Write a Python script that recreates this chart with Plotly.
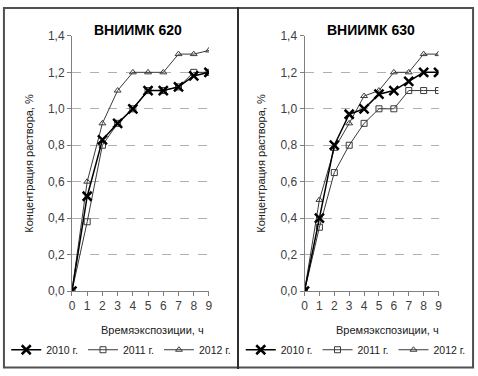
import plotly.graph_objects as go

hours = [0, 1, 2, 3, 4, 5, 6, 7, 8, 9]
years = ["2010 г.", "2011 г.", "2012 г."]

v620_2010 = [0, 0.52, 0.83, 0.92, 1.0, 1.1, 1.1, 1.12, 1.18, 1.2]
v620_2011 = [0, 0.38, 0.80, 0.92, 1.0, 1.1, 1.1, 1.12, 1.2, 1.2]
v620_2012 = [0, 0.60, 0.92, 1.10, 1.2, 1.2, 1.2, 1.3, 1.3, 1.32]

v630_2010 = [0, 0.40, 0.80, 0.97, 1.0, 1.08, 1.1, 1.15, 1.2, 1.2]
v630_2011 = [0, 0.35, 0.65, 0.80, 0.92, 1.0, 1.0, 1.1, 1.1, 1.1]
v630_2012 = [0, 0.50, 0.78, 0.92, 1.07, 1.1, 1.2, 1.2, 1.3, 1.3]

titles = ["ВНИИМК 620", "ВНИИМК 630"]
x_title = "Времяэкспозиции, ч"
y_title = "Концентрация раствора, %"

styles = [
    dict(color="#000000", width=1.5, symbol="x-thin-open", size=9, mlw=2.5),
    dict(color="#3a3a3a", width=1, symbol="square-open", size=6, mlw=1),
    dict(color="#3a3a3a", width=1, symbol="triangle-up-open", size=6, mlw=1),
]

fig = go.Figure()
panels = [(v620_2010, v620_2011, v620_2012), (v630_2010, v630_2011, v630_2012)]
for p, series in enumerate(panels):
    xa = "x" if p == 0 else "x2"
    ya = "y" if p == 0 else "y2"
    lg = "legend" if p == 0 else "legend2"
    for i in [2, 1, 0]:
        s = styles[i]
        fig.add_trace(go.Scatter(
            x=hours, y=series[i], name=years[i], mode="lines+markers",
            xaxis=xa, yaxis=ya, legend=lg, legendrank=i,
            line=dict(color=s["color"], width=s["width"]),
            marker=dict(symbol=s["symbol"], size=s["size"], color=s["color"],
                        line=dict(color=s["color"], width=s["mlw"])),
        ))

W, H = 478, 376
def px_x(v):
    return v / W
def px_y(v):
    return 1 - v / H

axis_common = dict(
    range=[0, 9], tickmode="linear", tick0=0, dtick=1,
    showgrid=False, showline=True, linecolor="#808080", linewidth=1,
    ticks="outside", ticklen=4, tickcolor="#808080",
    tickfont=dict(size=12, color="#404040", family="Liberation Sans"),
    zeroline=False, fixedrange=True,
)
yaxis_common = dict(
    range=[0, 1.4], tickmode="linear", tick0=0, dtick=0.2, tickformat=".1f",
    showgrid=True, gridcolor="#b0b0b0", griddash="dash", gridwidth=1,
    showline=True, linecolor="#808080", linewidth=1,
    ticks="outside", ticklen=4, tickcolor="#808080",
    tickfont=dict(size=12, color="#404040", family="Liberation Sans"),
    zeroline=False, fixedrange=True,
    title=dict(text=y_title, font=dict(size=11, color="#202020", family="Liberation Sans"), standoff=12),
)

leg_common = dict(orientation="h", xanchor="center", yanchor="middle",
                  font=dict(size=10.5, color="#202020", family="Liberation Sans"),
                  itemwidth=30, tracegroupgap=0,
                  bgcolor="rgba(0,0,0,0)", traceorder="normal")

fig.update_layout(
    width=W, height=H, margin=dict(l=0, r=0, t=0, b=0),
    paper_bgcolor="white", plot_bgcolor="white",
    separators=", ",
    font=dict(family="Liberation Sans", color="#202020"),
    xaxis=dict(domain=[px_x(70), px_x(209)], anchor="y", **axis_common),
    yaxis=dict(domain=[px_y(295), px_y(30)], anchor="x", **yaxis_common),
    xaxis2=dict(domain=[px_x(306), px_x(442)], anchor="y2", **axis_common),
    yaxis2=dict(domain=[px_y(295), px_y(30)], anchor="x2", **yaxis_common),
    legend=dict(x=px_x(120), y=px_y(356), **leg_common),
    legend2=dict(x=px_x(358), y=px_y(356), **leg_common),
    showlegend=True,
)

for cx, t in zip([137, 373], titles):
    fig.add_annotation(text="<b>" + t + "</b>", x=px_x(cx), y=px_y(24), xref="paper", yref="paper",
                       showarrow=False, font=dict(size=14, color="#000000", family="Liberation Sans"),
                       xanchor="center", yanchor="middle")
for cx in [152, 390]:
    fig.add_annotation(text=x_title, x=px_x(cx), y=px_y(335), xref="paper", yref="paper",
                       showarrow=False, font=dict(size=11, color="#202020", family="Liberation Sans"),
                       xanchor="center", yanchor="middle")

fig.add_shape(type="rect", xref="paper", yref="paper", x0=0.002, y0=0.004, x1=0.998, y1=0.997,
              line=dict(color="#505050", width=2))
fig.add_shape(type="line", xref="paper", yref="paper", x0=px_x(238.5), x1=px_x(238.5), y0=0, y1=1,
              line=dict(color="#303030", width=2))

fig.write_html("out.html")
